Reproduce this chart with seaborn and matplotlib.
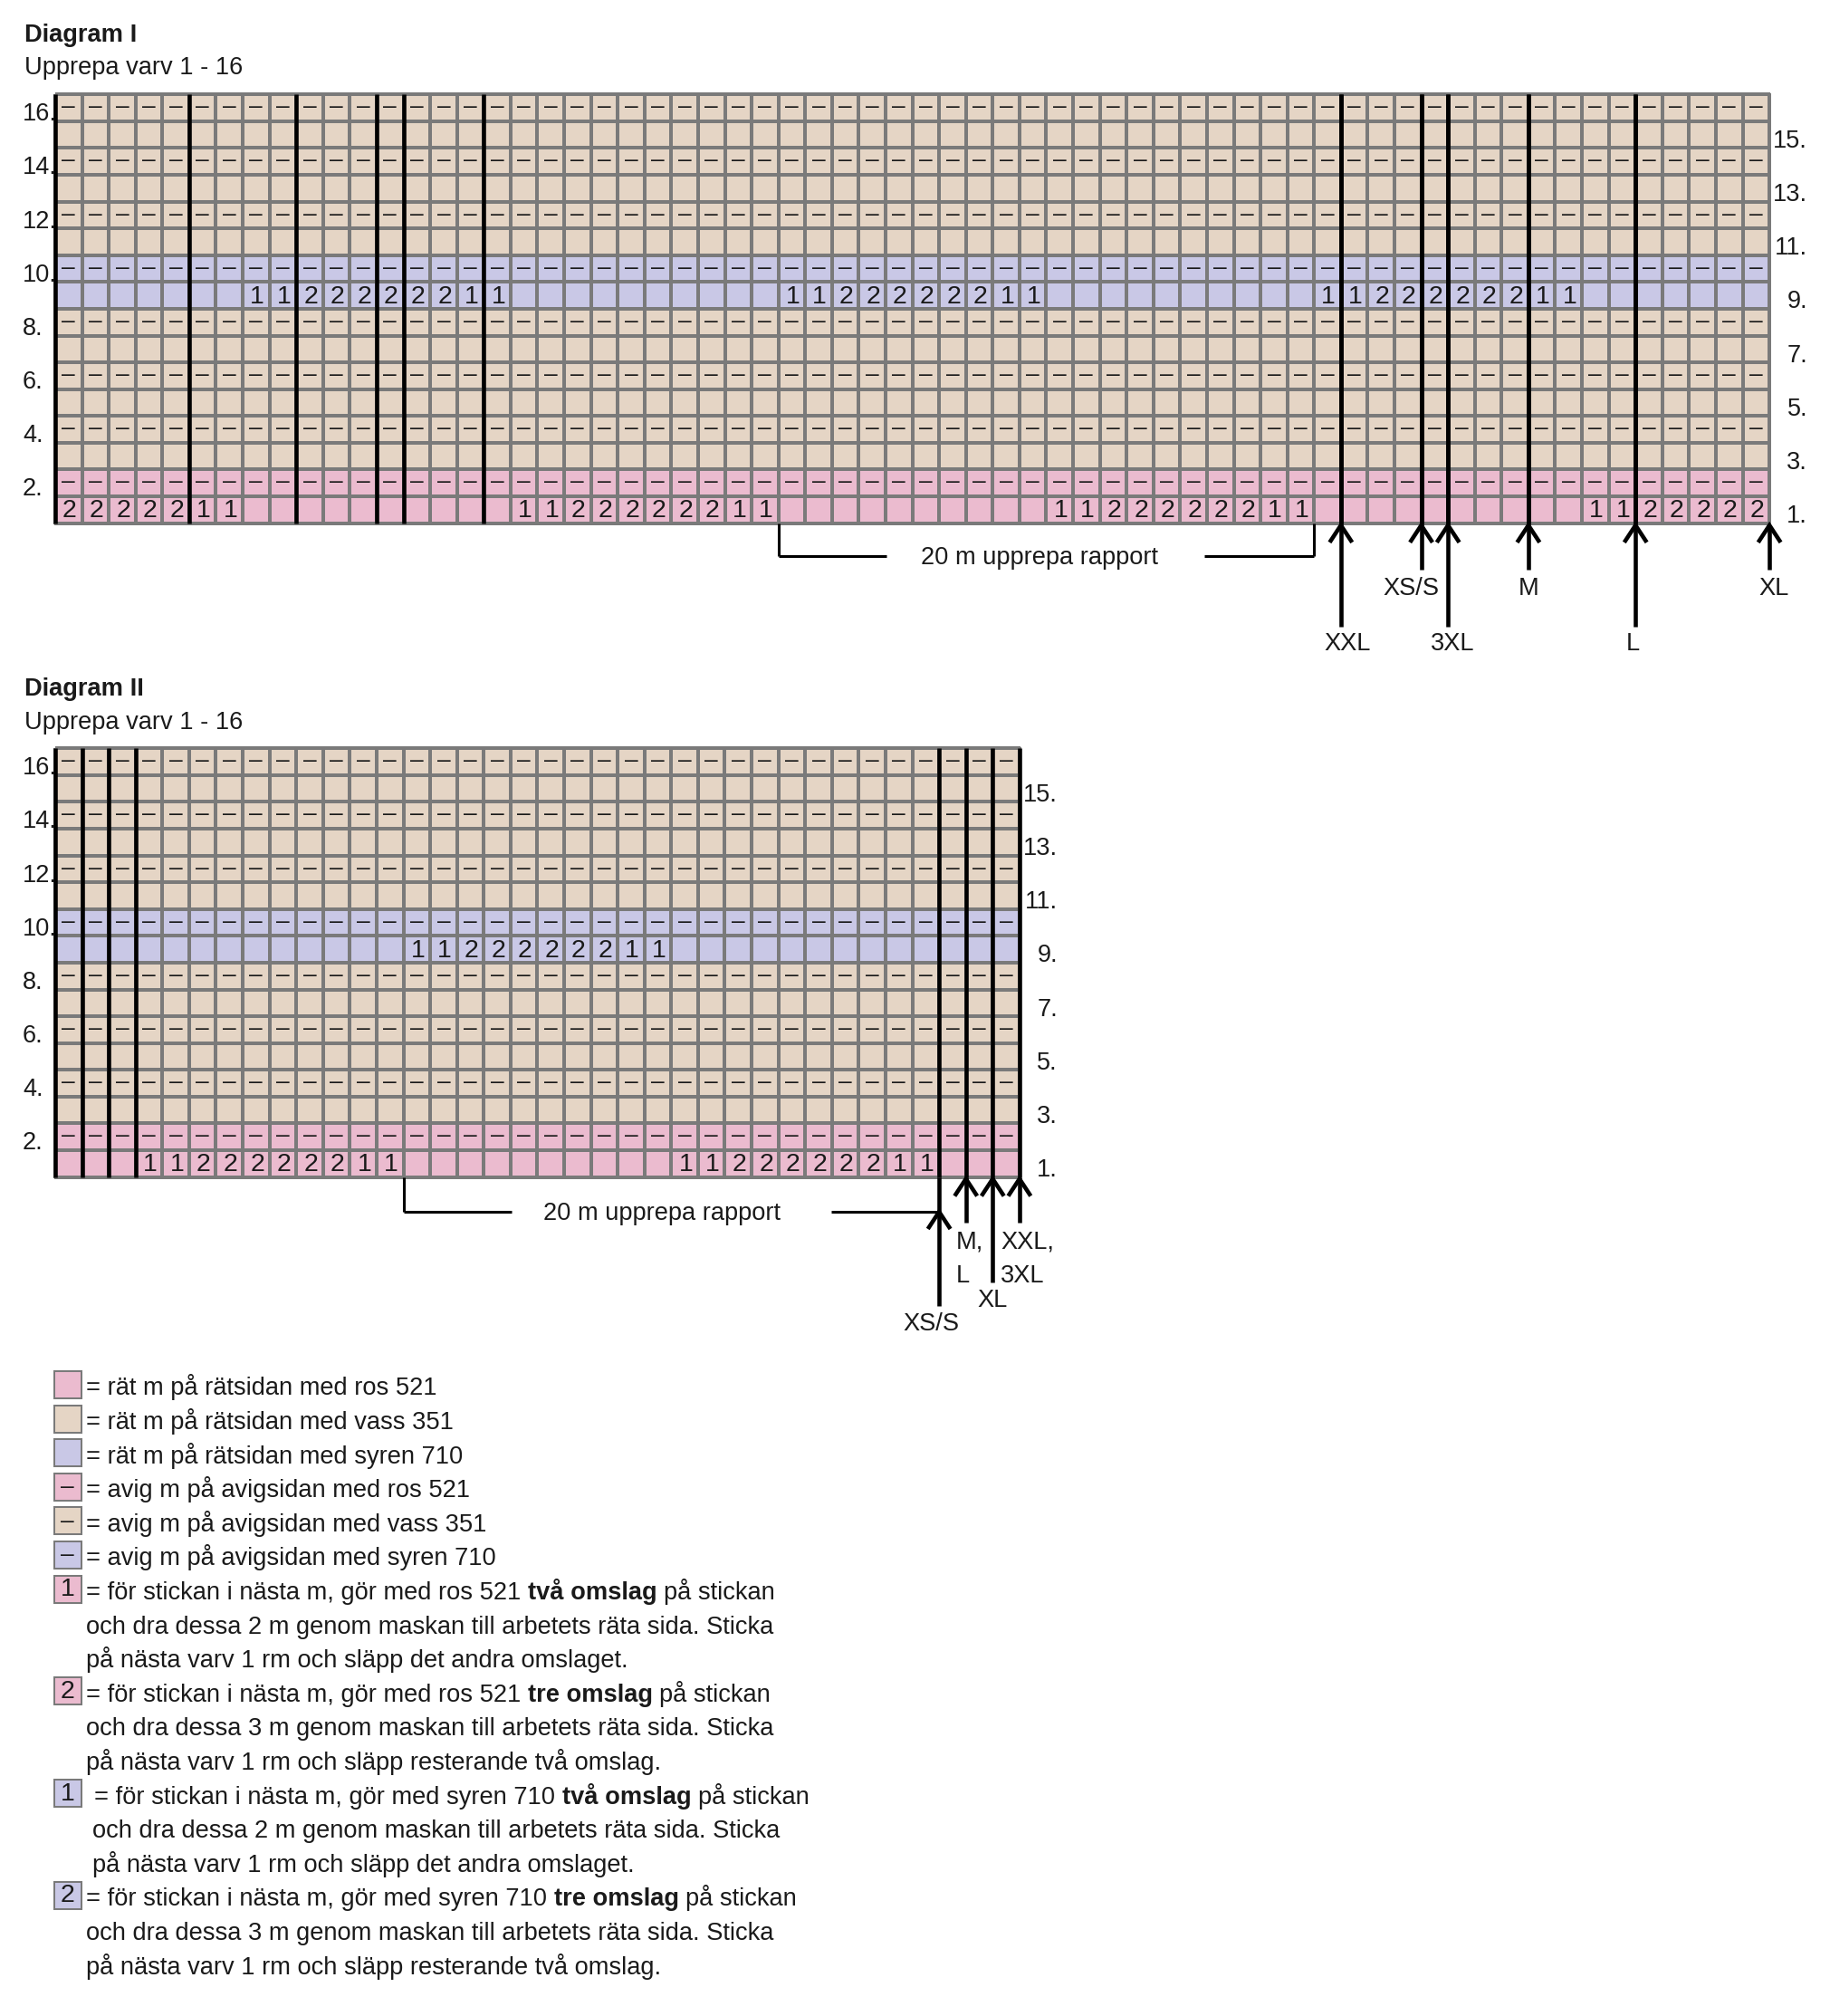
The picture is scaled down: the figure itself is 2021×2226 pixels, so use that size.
import numpy as np
import pandas as pd
import matplotlib
matplotlib.use("Agg")
import matplotlib.pyplot as plt
import seaborn as sns
from matplotlib.colors import ListedColormap
from matplotlib.patches import Rectangle
from matplotlib import font_manager

sns.set_theme(style="white")
_names = {f.name for f in font_manager.fontManager.ttflist}
FONT = "Liberation Sans" if "Liberation Sans" in _names else "DejaVu Sans"
plt.rcParams["font.family"] = [FONT, "DejaVu Sans"]

# ---------------- data ----------------
yarn_names = ["ros 521", "vass 351", "syren 710"]
yarn_colors = ["#EBBBCF", "#E5D5C5", "#C9C8E6"]
rows = list(range(1, 17))
row_yarn = [0, 0, 1, 1, 1, 1, 1, 1, 2, 2, 1, 1, 1, 1, 1, 1]   # yarn of row 1..16
purl_rows = [2, 4, 6, 8, 10, 12, 14, 16]
motif = ["1", "1", "2", "2", "2", "2", "2", "2", "1", "1"]
left_row_labels = ["16.", "14.", "12.", "10.", "8.", "6.", "4.", "2."]
left_row_nums = [16, 14, 12, 10, 8, 6, 4, 2]
right_row_labels = ["15.", "13.", "11.", "9.", "7.", "5.", "3.", "1."]
right_row_nums = [15, 13, 11, 9, 7, 5, 3, 1]

d1_ncols = 64
d1_row1_starts = [-3, 17, 37, 57]
d1_row9_starts = [7, 27, 47]
d1_grid_lines = [0, 5, 9, 12, 13, 16, 48, 51, 52, 55, 59]
d1_size_names = ["XXL", "XS/S", "3XL", "M", "L", "XL"]
d1_size_cols = [48, 51, 52, 55, 59, 64]
d1_size_long = [True, False, True, False, True, False]
d1_repeat = [27, 47]

d2_ncols = 36
d2_row1_starts = [3, 23]
d2_row9_starts = [13]
d2_grid_lines = [0, 1, 2, 3, 33, 34, 35, 36]
d2_size_names = [["XS/S"], ["M,", "L"], ["XL"], ["XXL,", "3XL"]]
d2_size_cols = [33, 34, 35, 36]
d2_repeat = [13, 33]

repeat_text = "20 m upprepa rapport"
titles = ["Diagram I", "Diagram II"]
subtitle = "Upprepa varv 1 - 16"

legend_yarn = [0, 1, 2, 0, 1, 2, 0, 0, 2, 2]
legend_sym = ["", "", "", "–", "–", "–", "1", "2", "1", "2"]
legend_text = [
    [[("= rät m på rätsidan med ros 521", False)]],
    [[("= rät m på rätsidan med vass 351", False)]],
    [[("= rät m på rätsidan med syren 710", False)]],
    [[("= avig m på avigsidan med ros 521", False)]],
    [[("= avig m på avigsidan med vass 351", False)]],
    [[("= avig m på avigsidan med syren 710", False)]],
    [[("= för stickan i nästa m, gör med ros 521", False), ("två omslag", True), ("på stickan", False)],
     [("och dra dessa 2 m genom maskan till arbetets räta sida. Sticka", False)],
     [("på nästa varv 1 rm och släpp det andra omslaget.", False)]],
    [[("= för stickan i nästa m, gör med ros 521", False), ("tre omslag", True), ("på stickan", False)],
     [("och dra dessa 3 m genom maskan till arbetets räta sida. Sticka", False)],
     [("på nästa varv 1 rm och släpp resterande två omslag.", False)]],
    [[("= för stickan i nästa m, gör med syren 710", False), ("två omslag", True), ("på stickan", False)],
     [("och dra dessa 2 m genom maskan till arbetets räta sida. Sticka", False)],
     [("på nästa varv 1 rm och släpp det andra omslaget.", False)]],
    [[("= för stickan i nästa m, gör med syren 710", False), ("tre omslag", True), ("på stickan", False)],
     [("och dra dessa 3 m genom maskan till arbetets räta sida. Sticka", False)],
     [("på nästa varv 1 rm och släpp resterande två omslag.", False)]],
]

# ---------------- layout ----------------
W, H = 2021, 2226
CELL = 29.58
GRID_LEFT = 61.0
D1_BOTTOM = 577.6
D2_BOTTOM = 1299.6
TXT = "#1a1a1a"
GRIDC = "#7a7a7a"
FS = 19.6
LW_THICK = 3.3
LW_BR = 2.2

fig = plt.figure(figsize=(W / 100, H / 100), dpi=100)
fig.patch.set_facecolor("white")
ov = fig.add_axes([0, 0, 1, 1])
ov.set_xlim(0, W)
ov.set_ylim(H, 0)
ov.axis("off")
ov.patch.set_alpha(0)


def build(ncols, row1_starts, row9_starts):
    colors = np.zeros((16, ncols))
    annot = np.full((16, ncols), "", dtype=object)
    for r in rows:
        i = 16 - r
        colors[i, :] = row_yarn[r - 1]
        if r in purl_rows:
            annot[i, :] = "–"
    for r, starts in ((1, row1_starts), (9, row9_starts)):
        i = 16 - r
        for s in starts:
            for k, sym in enumerate(motif):
                c = s + k
                if 0 <= c < ncols:
                    annot[i, c] = sym
    return pd.DataFrame(colors, index=rows[::-1]), annot


def chart(ncols, bottom_px, row1_starts, row9_starts):
    wpx = ncols * CELL
    hpx = 16 * CELL
    ax = fig.add_axes([GRID_LEFT / W, (H - bottom_px) / H, wpx / W, hpx / H])
    df, annot = build(ncols, row1_starts, row9_starts)
    sns.heatmap(df, ax=ax, cmap=ListedColormap(yarn_colors), vmin=-0.5, vmax=2.5,
                cbar=False, annot=annot, fmt="",
                annot_kws=dict(fontsize=19, color=TXT),
                linewidths=1.45, linecolor=GRIDC,
                xticklabels=False, yticklabels=False)
    ax.collections[0].set_clip_on(False)
    # fine-tune the cell symbols: digits a bit larger and slightly lower
    for t in ax.texts:
        if t.get_text() in ("1", "2"):
            t.set_fontsize(20.5)
            x, y = t.get_position()
            t.set_position((x + 0.04, y + 0.05))
        elif t.get_text() == "–":
            x, y = t.get_position()
            t.set_position((x, y - 0.03))
    for s in ax.spines.values():
        s.set_visible(False)
    ax.tick_params(left=False, bottom=False)
    # row labels
    for lab, r in zip(left_row_labels, left_row_nums):
        ax.text(-1.22, 17 - r - 0.02, lab, ha="left", va="baseline", fontsize=19.5, color=TXT)
    for lab, r in zip(right_row_labels, right_row_nums):
        ax.text(ncols + 1.42, 17 - r - 0.02, lab, ha="right", va="baseline", fontsize=19.5, color=TXT)
    return ax


def vline(ax, x, y0, y1, lw=LW_THICK):
    ax.plot([x, x], [y0, y1], color="black", lw=lw, solid_capstyle="butt", clip_on=False, zorder=6)


def head(ax, x, tip):
    ax.plot([x - 0.42, x, x + 0.42], [tip + 0.64, tip, tip + 0.64], color="black", lw=LW_THICK,
            solid_joinstyle="miter", solid_capstyle="butt", clip_on=False, zorder=6)


def bracket(ax, c0, c1, y, txt_gap_left, txt_gap_right, txt_x):
    vline(ax, c0, 16, y, lw=LW_BR)
    ax.plot([c0, txt_gap_left], [y, y], color="black", lw=LW_BR, clip_on=False, zorder=6,
            solid_capstyle="butt")
    ax.plot([txt_gap_right, c1], [y, y], color="black", lw=LW_BR, clip_on=False, zorder=6,
            solid_capstyle="butt")
    ax.text(txt_x, y + 0.29, repeat_text, ha="center", va="baseline", fontsize=FS, color=TXT)


# ---------------- Diagram I ----------------
ax1 = chart(d1_ncols, D1_BOTTOM, d1_row1_starts, d1_row9_starts)
for b in d1_grid_lines:
    vline(ax1, b, 0, 16)
TIP = 16.08
d1_label_dx = {"XXL": 0.24, "XS/S": -0.37, "3XL": 0.17, "M": 0.0, "L": -0.1, "XL": 0.17}
for name, c, long in zip(d1_size_names, d1_size_cols, d1_size_long):
    end = 19.86 if long else 17.74
    start = 0 if c in d1_grid_lines else TIP
    vline(ax1, c, start, end)
    head(ax1, c, TIP)
    ax1.text(c + d1_label_dx[name], 20.74 if long else 18.68, name, ha="center", va="baseline",
             fontsize=FS, color=TXT)
# repeat bracket
vline(ax1, d1_repeat[1], 16, 17.23, lw=LW_BR)
bracket(ax1, d1_repeat[0], d1_repeat[1], 17.23, 31.03, 42.9, 36.75)

# ---------------- Diagram II ----------------
ax2 = chart(d2_ncols, D2_BOTTOM, d2_row1_starts, d2_row9_starts)
for b in d2_grid_lines:
    vline(ax2, b, 0, 16)
BR2 = 17.3
vline(ax2, d2_repeat[1], 16, 20.83)
head(ax2, d2_repeat[1], BR2)
bracket(ax2, d2_repeat[0], d2_repeat[1], BR2, 17.04, 28.97, 22.65)
d2_ends = {34: 17.72, 35: 19.92, 36: 17.72}
for c in d2_size_cols[1:]:
    vline(ax2, c, 16, d2_ends[c])
    head(ax2, c, 16.07)
ax2.text(32.72, 21.74, d2_size_names[0][0], ha="center", va="baseline", fontsize=FS, color=TXT)
ax2.text(33.64, 18.67, d2_size_names[1][0], ha="left", va="baseline", fontsize=FS, color=TXT)
ax2.text(33.64, 19.95, d2_size_names[1][1], ha="left", va="baseline", fontsize=FS, color=TXT)
ax2.text(35.0, 20.86, d2_size_names[2][0], ha="center", va="baseline", fontsize=FS, color=TXT)
ax2.text(35.3, 18.67, d2_size_names[3][0], ha="left", va="baseline", fontsize=FS, color=TXT)
ax2.text(35.3, 19.95, d2_size_names[3][1], ha="left", va="baseline", fontsize=FS, color=TXT)

# ---------------- titles ----------------
for title, yb, ys in zip(titles, [46, 768.5], [82.5, 805]):
    ov.text(27, yb, title, ha="left", va="baseline", fontsize=FS, fontweight="bold", color=TXT)
    ov.text(27, ys, subtitle, ha="left", va="baseline", fontsize=FS, color=TXT)

# ---------------- legend ----------------
fig.canvas.draw()
rend = fig.canvas.get_renderer()


def width(s, bold=False):
    t = ov.text(0, 0, s, fontsize=FS, fontweight="bold" if bold else "normal")
    w = t.get_window_extent(renderer=rend).width
    t.remove()
    return w


SPACE = width("n n") - width("nn")
LINE0 = 1540.5
STEP = 37.6
line = 0
for k, (yi, sym, paras) in enumerate(zip(legend_yarn, legend_sym, legend_text)):
    top = LINE0 - 26.5 + STEP * line
    ov.add_patch(Rectangle((59.5, top), 30.5, 30, facecolor=yarn_colors[yi],
                           edgecolor=GRIDC, lw=1.45))
    if sym:
        ov.text(74.75, top + 15.5, sym, ha="center", va="center",
                fontsize=20.5 if sym != "–" else 19, color=TXT)
    for j, parts in enumerate(paras):
        x = 95.0
        if k == 8:
            x = 104.5 if j == 0 else 102.0
        yb = LINE0 + STEP * line
        for txt, bold in parts:
            t = ov.text(x, yb, txt, ha="left", va="baseline", fontsize=FS,
                        fontweight="bold" if bold else "normal", color=TXT)
            x += t.get_window_extent(renderer=rend).width + SPACE
        line += 1

fig.savefig("out.png", dpi=100)
